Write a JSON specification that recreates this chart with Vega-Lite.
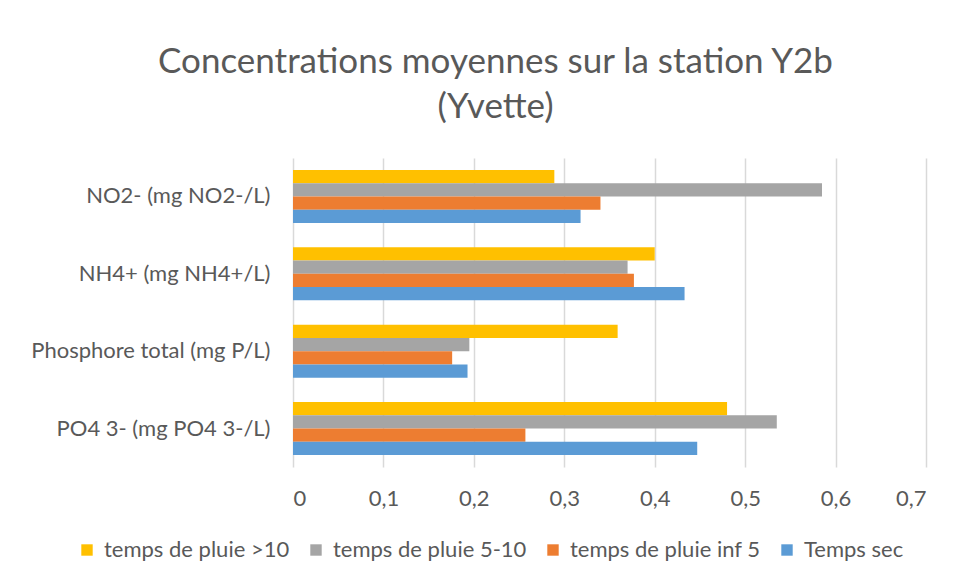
{
  "$schema": "https://vega.github.io/schema/vega-lite/v6.json",
  "width": 633,
  "height": 309,
  "autosize": {"type": "none"},
  "padding": {"left": 293, "top": 158, "right": 28, "bottom": 114},
  "background": "white",
  "title": {
    "text": ["Concentrations moyennes sur la station Y2b", "(Yvette)"],
    "font": "Lato",
    "fontSize": 35,
    "fontWeight": "normal",
    "color": "#595959",
    "lineHeight": 45,
    "anchor": "middle",
    "frame": "group",
    "dx": -114,
    "offset": 33
  },
  "data": {
    "values": [
      {"param": "NO2- (mg NO2-/L)", "serie": "temps de pluie >10", "value": 0.289},
      {"param": "NO2- (mg NO2-/L)", "serie": "temps de pluie 5-10", "value": 0.585},
      {"param": "NO2- (mg NO2-/L)", "serie": "temps de pluie inf 5", "value": 0.340},
      {"param": "NO2- (mg NO2-/L)", "serie": "Temps sec", "value": 0.318},
      {"param": "NH4+ (mg NH4+/L)", "serie": "temps de pluie >10", "value": 0.400},
      {"param": "NH4+ (mg NH4+/L)", "serie": "temps de pluie 5-10", "value": 0.370},
      {"param": "NH4+ (mg NH4+/L)", "serie": "temps de pluie inf 5", "value": 0.377},
      {"param": "NH4+ (mg NH4+/L)", "serie": "Temps sec", "value": 0.433},
      {"param": "Phosphore total (mg P/L)", "serie": "temps de pluie >10", "value": 0.359},
      {"param": "Phosphore total (mg P/L)", "serie": "temps de pluie 5-10", "value": 0.195},
      {"param": "Phosphore total (mg P/L)", "serie": "temps de pluie inf 5", "value": 0.176},
      {"param": "Phosphore total (mg P/L)", "serie": "Temps sec", "value": 0.193},
      {"param": "PO4 3- (mg PO4 3-/L)", "serie": "temps de pluie >10", "value": 0.480},
      {"param": "PO4 3- (mg PO4 3-/L)", "serie": "temps de pluie 5-10", "value": 0.535},
      {"param": "PO4 3- (mg PO4 3-/L)", "serie": "temps de pluie inf 5", "value": 0.257},
      {"param": "PO4 3- (mg PO4 3-/L)", "serie": "Temps sec", "value": 0.447}
    ]
  },
  "mark": {"type": "bar"},
  "encoding": {
    "y": {
      "field": "param",
      "type": "nominal",
      "sort": ["NO2- (mg NO2-/L)", "NH4+ (mg NH4+/L)", "Phosphore total (mg P/L)", "PO4 3- (mg PO4 3-/L)"],
      "scale": {"paddingInner": 0.315, "paddingOuter": 0.155},
      "axis": {
        "title": null,
        "domain": false,
        "ticks": false,
        "labelPadding": 23,
        "labelLimit": 400,
        "labelFont": "Lato",
        "labelFontSize": 22,
        "labelColor": "#595959"
      }
    },
    "yOffset": {
      "field": "serie",
      "type": "nominal",
      "sort": ["temps de pluie >10", "temps de pluie 5-10", "temps de pluie inf 5", "Temps sec"],
      "scale": {"paddingInner": 0, "paddingOuter": 0}
    },
    "x": {
      "field": "value",
      "type": "quantitative",
      "scale": {"domain": [0, 0.7], "nice": false},
      "axis": {
        "title": null,
        "values": [0, 0.1, 0.2, 0.3, 0.4, 0.5, 0.6, 0.7],
        "labelExpr": "datum.value == 0 ? '0' : replace(format(datum.value, '.1f'), '.', ',')",
        "domain": false,
        "ticks": false,
        "grid": true,
        "gridColor": "#d9d9d9",
        "gridWidth": 1.5,
        "labelPadding": 21,
        "labelFont": "Lato",
        "labelFontSize": 22,
        "labelColor": "#595959"
      }
    },
    "color": {
      "field": "serie",
      "type": "nominal",
      "sort": ["temps de pluie >10", "temps de pluie 5-10", "temps de pluie inf 5", "Temps sec"],
      "scale": {
        "domain": ["temps de pluie >10", "temps de pluie 5-10", "temps de pluie inf 5", "Temps sec"],
        "range": ["#FFC000", "#A5A5A5", "#ED7D31", "#5B9BD5"]
      },
      "legend": {
        "title": null,
        "orient": "none",
        "direction": "horizontal",
        "legendX": -217,
        "legendY": 381,
        "symbolType": "square",
        "symbolSize": 130,
        "symbolStrokeWidth": 0,
        "symbolOpacity": 1,
        "labelFont": "Lato",
        "labelFontSize": 22,
        "labelLimit": 400,
        "labelColor": "#595959",
        "columnPadding": 15,
        "labelOffset": 6
      }
    }
  },
  "config": {"view": {"stroke": null}}
}
